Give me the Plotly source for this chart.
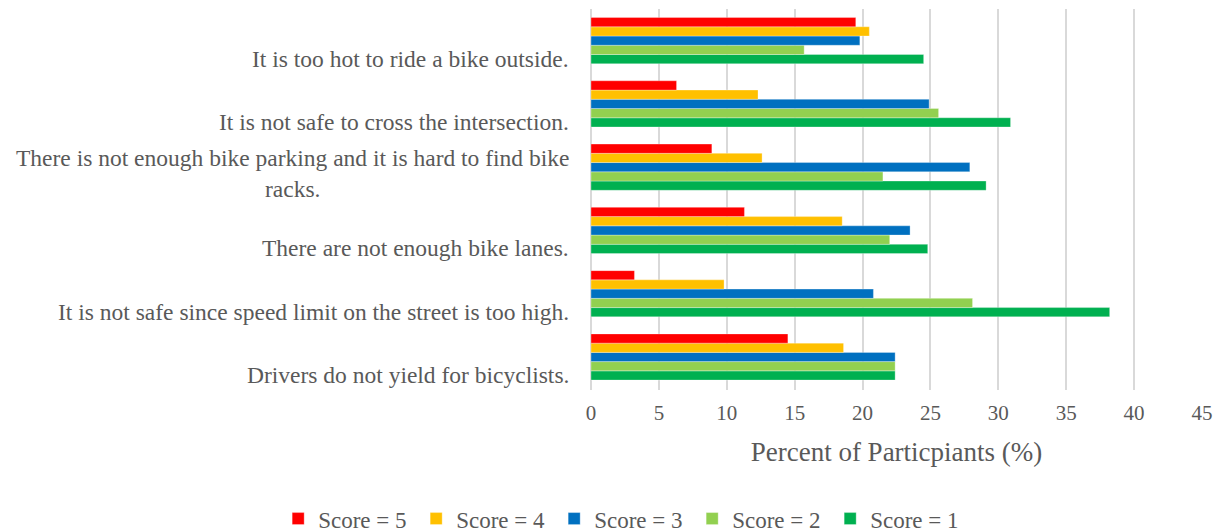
import plotly.graph_objects as go

categories = [
    "Drivers do not yield for bicyclists.",
    "It is not safe since speed limit on the street is too high.",
    "There are not enough bike lanes.",
    "There is not enough bike parking and it is hard to find bike<br>racks.",
    "It is not safe to cross the intersection.",
    "It is too hot to ride a bike outside.",
]
# values listed bottom-to-top to match categories
score1 = [22.4, 38.2, 24.8, 29.1, 30.9, 24.5]
score2 = [22.4, 28.1, 22.0, 21.5, 25.6, 15.7]
score3 = [22.4, 20.8, 23.5, 27.9, 24.9, 19.8]
score4 = [18.6, 9.8, 18.5, 12.6, 12.3, 20.5]
score5 = [14.5, 3.2, 11.3, 8.9, 6.3, 19.5]

series_names = ["Score = 1", "Score = 2", "Score = 3", "Score = 4", "Score = 5"]
series_values = [score1, score2, score3, score4, score5]
colors = ["#00B050", "#92D050", "#0070C0", "#FFC000", "#FF0000"]

FONT = "Liberation Serif"
GREY = "#595959"

fig = go.Figure()
for name, vals, col in zip(series_names, series_values, colors):
    fig.add_trace(go.Bar(
        y=categories, x=vals, name=name, orientation="h",
        marker=dict(color=col, line=dict(color="rgba(255,255,255,0.6)", width=0.5)),
    ))

for cat in categories:
    two_line = "<br>" in cat
    fig.add_annotation(
        x=0, xref="paper", y=cat, yref="y",
        text=cat, showarrow=False, xanchor="right", align="center",
        xshift=-20, yshift=-6 if two_line else -18,
        font=dict(family=FONT, size=23.5, color=GREY),
    )

fig.update_layout(
    width=1217, height=524,
    barmode="group", bargap=0.27, bargroupgap=0,
    plot_bgcolor="white", paper_bgcolor="white",
    margin=dict(l=583, r=23, t=1, b=142, autoexpand=False),
    font=dict(family=FONT, color=GREY),
    xaxis=dict(
        range=[0, 45], dtick=5, tick0=0,
        showgrid=True, gridcolor="#D9D9D9", gridwidth=1.5,
        zeroline=True, zerolinecolor="#D9D9D9", zerolinewidth=1.5,
        showline=False, ticks="",
        tickfont=dict(family=FONT, size=21, color=GREY),
        ticklabelstandoff=8,
        title=dict(text="Percent of Particpiants (%)", standoff=18,
                   font=dict(family=FONT, size=27, color=GREY)),
    ),
    yaxis=dict(
        categoryorder="array", categoryarray=categories,
        showticklabels=False, showgrid=False, ticks="", showline=False,
    ),
    legend=dict(
        orientation="h", traceorder="reversed",
        x=-0.512, xanchor="left", y=-0.394, yanchor="bottom",
        font=dict(family=FONT, size=23, color=GREY),
        entrywidth=93, entrywidthmode="pixels",
    ),
    showlegend=True,
)

fig.write_html("out.html")
